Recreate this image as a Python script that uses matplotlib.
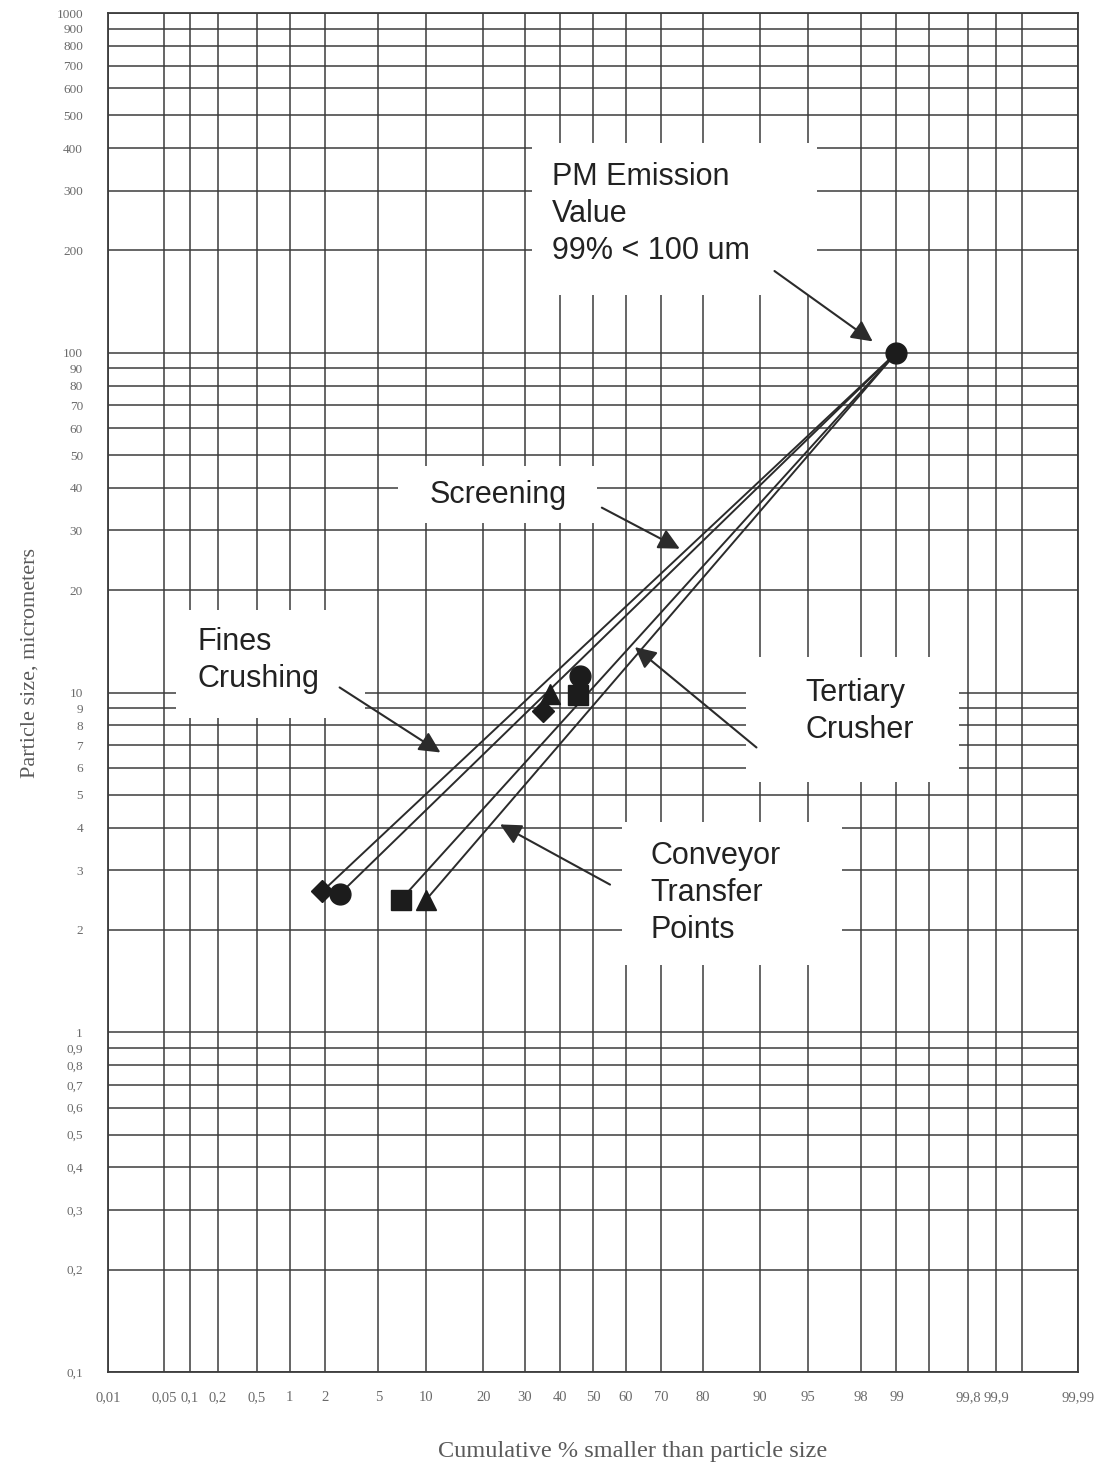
import numpy as np
import matplotlib
matplotlib.use('Agg')
import matplotlib.pyplot as plt
from matplotlib.patches import Rectangle
from matplotlib.ticker import NullLocator
from statistics import NormalDist

# log-probability paper: particle size against cumulative % smaller
nd = NormalDist()


def to_probit(p):
    p = np.clip(np.asarray(p, dtype=float), 1e-6, 100 - 1e-6)
    return np.vectorize(nd.inv_cdf, otypes=[float])(p / 100.0)


def from_probit(z):
    return 100.0 * np.vectorize(nd.cdf, otypes=[float])(np.asarray(z, dtype=float))


# grid values
x_ticks = [0.01, 0.05, 0.1, 0.2, 0.5, 1, 2, 5, 10, 20, 30, 40, 50, 60, 70, 80,
           90, 95, 98, 99, 99.8, 99.9, 99.99]
x_labels = ['0,01', '0,05', '0,1', '0,2', '0,5', '1', '2', '5', '10', '20', '30',
            '40', '50', '60', '70', '80', '90', '95', '98', '99', '99,8', '99,9',
            '99,99']
x_extra = [99.5, 99.95]  # unlabelled lines
y_ticks = [1000, 900, 800, 700, 600, 500, 400, 300, 200,
           100, 90, 80, 70, 60, 50, 40, 30, 20,
           10, 9, 8, 7, 6, 5, 4, 3, 2,
           1, 0.9, 0.8, 0.7, 0.6, 0.5, 0.4, 0.3, 0.2, 0.1]
y_labels = [str(v).replace('.', ',') if v < 1 else str(int(v)) for v in y_ticks]

# sources: diamond, circle, square, triangle
markers = ['D', 'o', 's', '^']
msizes = [11, 15, 14, 15]
# fine end of each size distribution line (cumulative %, um)
fine_pct = [1.9, 2.6, 7.0, 10.0]
fine_um = [2.6, 2.55, 2.45, 2.45]
# mid-range measured points
mid_pct = [35.0, 46.0, 45.5, 37.0]
mid_um = [8.8, 11.2, 9.8, 9.9]
# PM emission value, 99% < 100 um
pm_pct = 99.0
pm_um = 100.0

fig = plt.figure(figsize=(10.95, 14.74), dpi=100)
ax = fig.add_axes([108 / 1095, 102 / 1474, 970 / 1095, 1359 / 1474])

ax.set_xscale('function', functions=(to_probit, from_probit))
ax.set_yscale('log')
ax.set_xlim(0.01, 99.99)
ax.set_ylim(0.1, 1000)

ax.set_xticks(x_ticks)
ax.set_xticklabels(x_labels, family='Liberation Serif', fontsize=10.5, color='#6a6a6a')
ax.set_xticks(x_extra, minor=True)
ax.set_yticks(y_ticks)
ax.set_yticklabels(y_labels, family='Liberation Serif', fontsize=9.5, color='#6a6a6a')
ax.yaxis.set_minor_locator(NullLocator())
ax.tick_params(which='both', length=0)
ax.tick_params(axis='x', pad=14)
ax.tick_params(axis='y', pad=18)

ax.set_axisbelow(True)
ax.grid(True, which='both', color='#3c3c3c', lw=1.1)
for s in ax.spines.values():
    s.set_color('#3c3c3c')
    s.set_linewidth(1.3)

# white panels behind the labels (pct0, pct1, um0, um1)
panels = [(32.0, 95.7, 148, 415),
          (6.7, 51.2, 31.6, 46.5),
          (0.069, 4.0, 8.4, 17.5),
          (88.0, 99.75, 5.44, 12.7),
          (58.8, 97.2, 1.58, 4.15)]
for p0, p1, s0, s1 in panels:
    ax.add_patch(Rectangle((p0, s0), p1 - p0, s1 - s0, facecolor='white',
                           edgecolor='none', zorder=1))

# lines from the fine end to the PM point, plus markers
for m, ms, p0, s0, p1, s1 in zip(markers, msizes, fine_pct, fine_um, mid_pct, mid_um):
    ax.plot([p0, pm_pct], [s0, pm_um], color='#2b2b2b', lw=1.4, zorder=3)
    ax.plot(p0, s0, marker=m, ms=ms, color='#1c1c1c', ls='none', zorder=4)
    ax.plot(p1, s1, marker=m, ms=ms, color='#1c1c1c', ls='none', zorder=4)
ax.plot(pm_pct, pm_um, marker='o', ms=15, color='#1c1c1c', ls='none', zorder=4)

txt = dict(family='Liberation Sans', fontsize=22, color='#222222',
           ha='left', va='top', linespacing=1.3, zorder=5)
arrow = dict(arrowstyle='-|>', mutation_scale=32, lw=1.5, color='#2b2b2b',
             shrinkA=0, shrinkB=0)

ax.text(37.7, 365, 'PM Emission\nValue\n99% < 100 um', **txt)
ax.annotate('', xy=(98.4, 108), xytext=(91.8, 174), arrowprops=arrow, zorder=5)

ax.text(10.5, 38.2, 'Screening', **dict(txt, va='center'))
ax.annotate('', xy=(74.7, 26.5), xytext=(52.7, 35.0), arrowprops=arrow, zorder=5)

ax.text(0.12, 15.6, 'Fines\nCrushing', **txt)
ax.annotate('', xy=(12.1, 6.66), xytext=(2.6, 10.35), arrowprops=arrow, zorder=5)

ax.text(94.8, 11.0, 'Tertiary\nCrusher', **txt)
ax.annotate('', xy=(62.6, 13.6), xytext=(89.5, 6.89), arrowprops=arrow, zorder=5)

ax.text(66.9, 3.65, 'Conveyor\nTransfer\nPoints', **txt)
ax.annotate('', xy=(23.8, 4.09), xytext=(55.2, 2.72), arrowprops=arrow, zorder=5)

fig.text(30 / 1095, 1 - 663 / 1474, 'Particle size, micrometers', rotation=90,
         ha='center', va='center', family='Liberation Serif', fontsize=16,
         color='#5a5a5a')
fig.text(633 / 1095, 1 - 1452 / 1474, 'Cumulative % smaller than particle size',
         ha='center', va='center', family='Liberation Serif', fontsize=17.5,
         color='#5a5a5a')

fig.savefig('out.png', dpi=100, facecolor='white')
